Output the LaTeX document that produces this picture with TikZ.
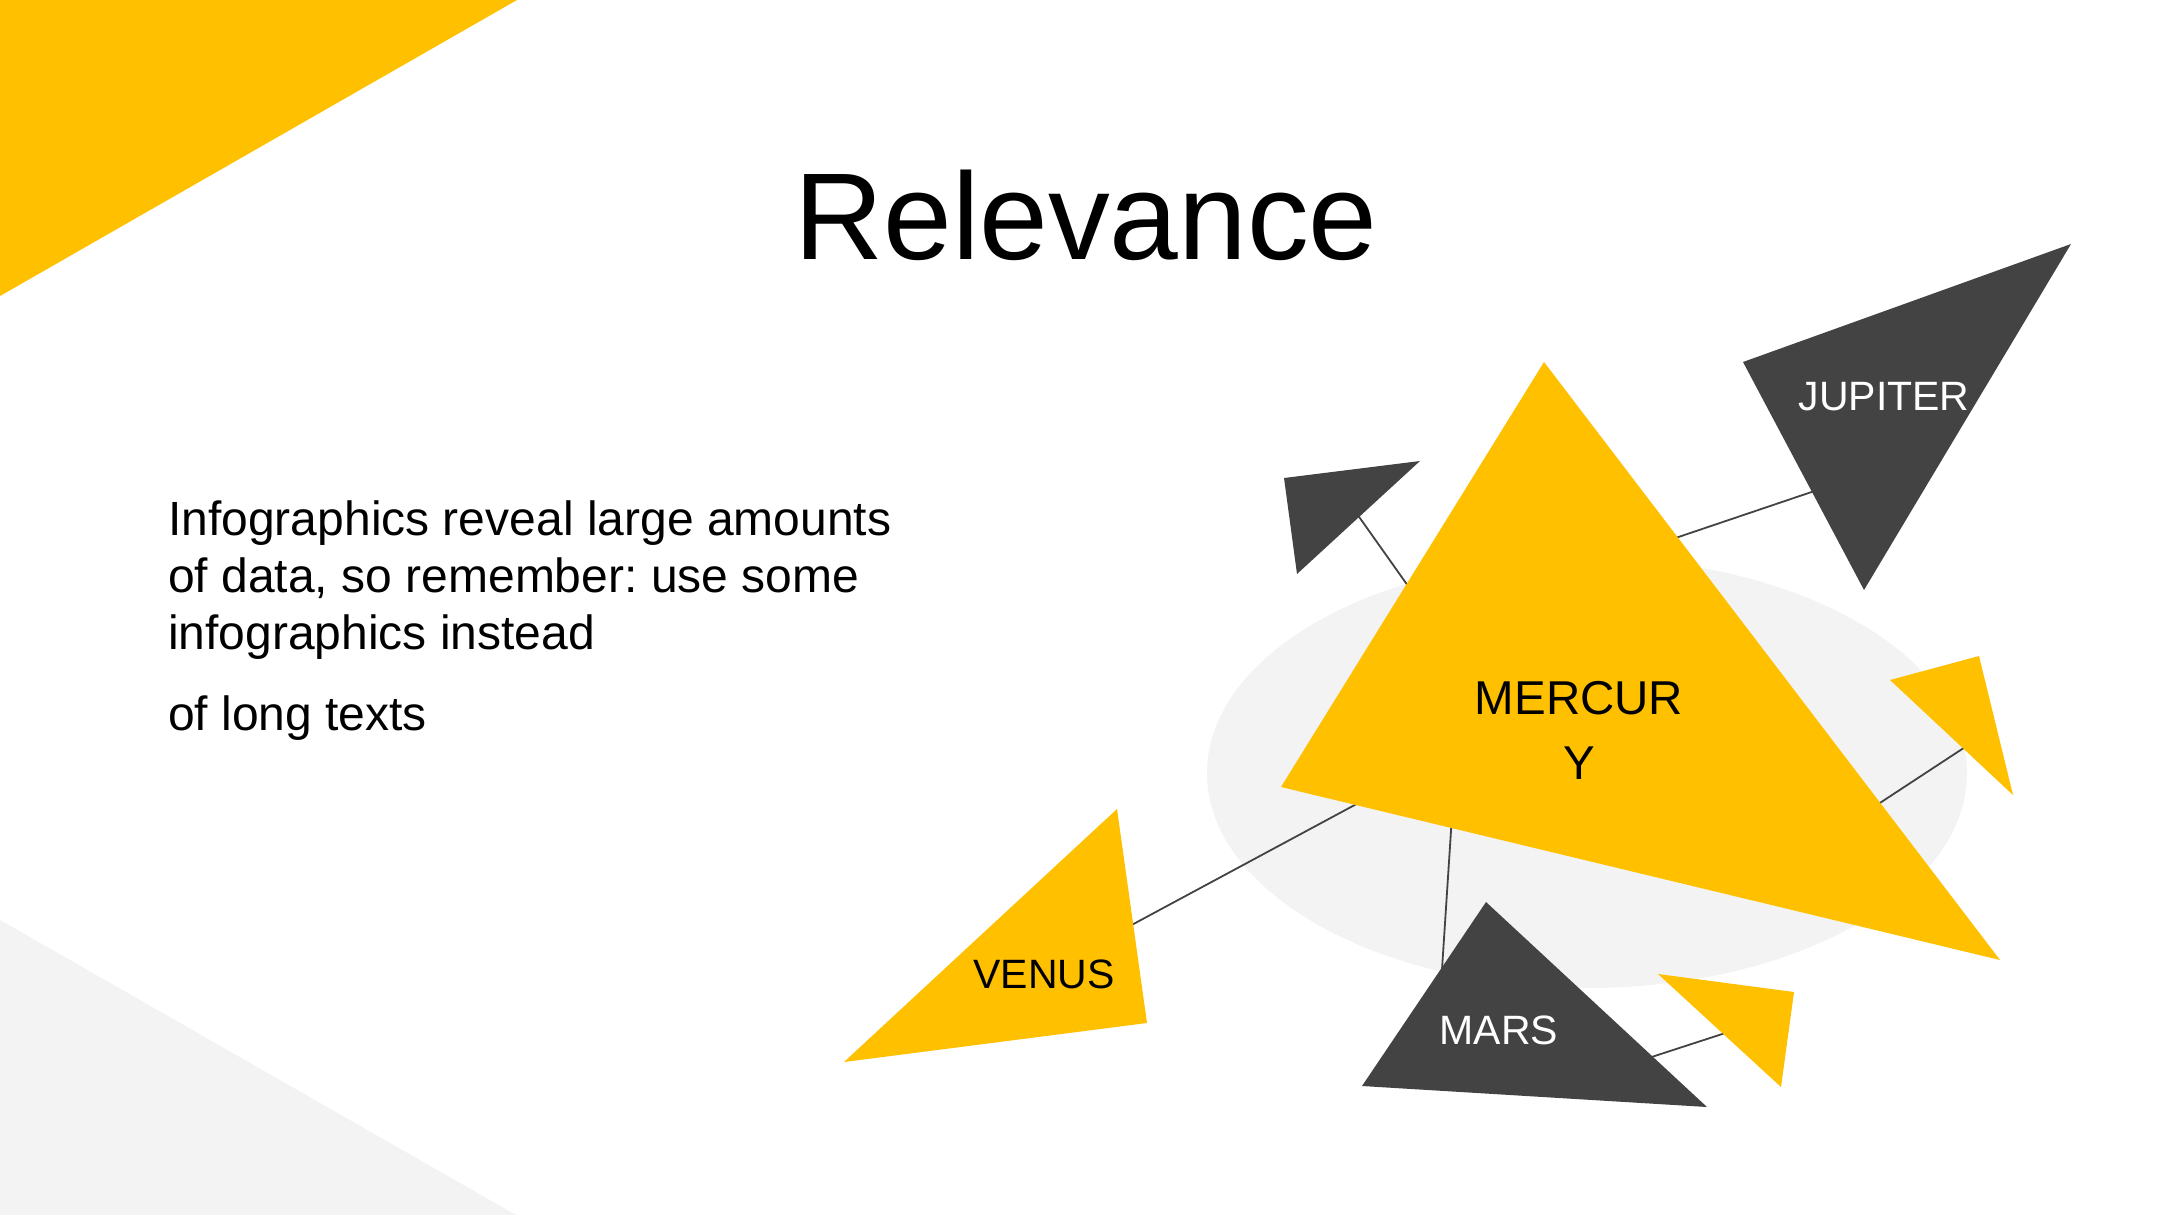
\documentclass[tikz,border=0pt]{standalone}
\usepackage{fontspec}
\setmainfont{Liberation Sans}
\frenchspacing
\definecolor{gold}{HTML}{FFC000}
\definecolor{darkgrey}{HTML}{434343}
\definecolor{lightgrey}{HTML}{F3F3F3}
\begin{document}
\begin{tikzpicture}[x=1pt,y=-1pt,
  goldtri/.style={fill=gold,draw=none},
  darktri/.style={fill=darkgrey,draw=none},
  link/.style={draw=darkgrey,line width=1.8pt},
  lbl/.style={inner sep=0pt,anchor=base,font=\fontsize{41}{49}\selectfont},
  bodytxt/.style={inner sep=0pt,anchor=base west,font=\fontsize{48}{57}\selectfont}]
\useasboundingbox (0,0) rectangle (2160,1215);
\fill[white] (0,0) rectangle (2160,1215);
% corner decorations
\fill[gold] (0,0) -- (517,0) -- (0,296) -- cycle;
\fill[lightgrey] (0,920) -- (516,1215) -- (0,1215) -- cycle;
% background ellipse
\fill[lightgrey] (1587,773) ellipse [x radius=380, y radius=215];
% connector end points
\coordinate (smallA) at (1345,497);
\coordinate (mercA) at (1430,617);
\coordinate (jupA) at (1850,479);
\coordinate (mercB) at (1640,550);
\coordinate (venA) at (1100,942);
\coordinate (mercC) at (1390,786);
\coordinate (mercD) at (1453,800);
\coordinate (marsA) at (1440,1000);
\coordinate (marsB) at (1630,1064);
\coordinate (smallB) at (1750,1025);
\coordinate (mercE) at (1860,816);
\coordinate (smallC) at (1985,734);
\draw[link] (smallA) -- (mercA);
\draw[link] (jupA) -- (mercB);
\draw[link] (venA) -- (mercC);
\draw[link] (mercD) -- (marsA);
\draw[link] (marsB) -- (smallB);
\draw[link] (mercE) -- (smallC);
% triangles
\fill[darktri] (1284,478) -- (1420,461) -- (1297,574) -- cycle;
\fill[darktri] (1743,362) -- (2071,244) -- (1864,590) -- cycle;
\fill[goldtri] (1544,362) -- (1281,787) -- (2000,960) -- cycle;
\fill[goldtri] (1890,680) -- (1979,656) -- (2013,795) -- cycle;
\fill[goldtri] (1117,809) -- (1147,1023) -- (844,1062) -- cycle;
\fill[darktri] (1486,902) -- (1362,1086) -- (1707,1107) -- cycle;
\fill[goldtri] (1658,974) -- (1794,992) -- (1781,1087) -- cycle;
% labels
\node[lbl,white] (jupiter) at (1884,410) {JUPITER};
\node[lbl,font=\fontsize{47.5}{57}\selectfont] (mercury1) at (1579,714) {MERCUR};
\node[lbl,font=\fontsize{47.5}{57}\selectfont] (mercury2) at (1579,779) {Y};
\node[lbl] (venus) at (1044,988) {VENUS};
\node[lbl,white] (mars) at (1499,1044) {MARS};
% title and body
\node[inner sep=0pt,anchor=base,font=\fontsize{123.5}{148}\selectfont] (title) at (1086,259) {Relevance};
\node[bodytxt] (body1) at (168,535) {Infographics reveal large amounts};
\node[bodytxt] (body2) at (168,592) {of data, so remember: use some};
\node[bodytxt] (body3) at (168,649) {infographics instead};
\node[bodytxt] (body4) at (168,730) {of long texts};
\end{tikzpicture}
\end{document}
